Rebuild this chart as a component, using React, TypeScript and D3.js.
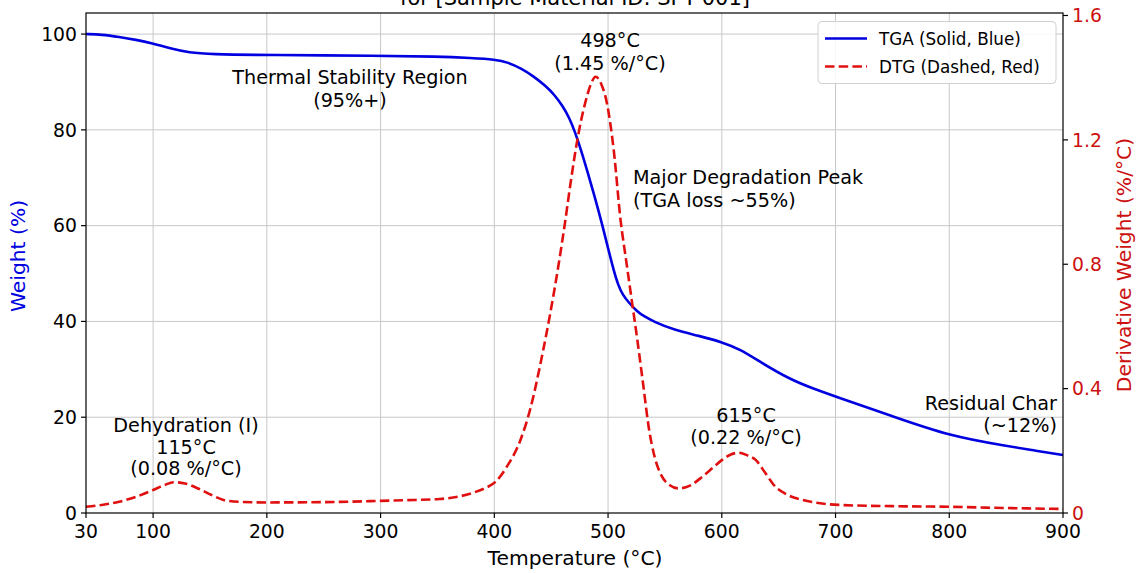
import React from "react";
import * as d3 from "d3";

// ---- Data ----
const tgaTemp = [41, 55, 70, 85, 99, 115, 132, 150, 200, 300, 350, 380, 401, 412, 424, 435, 445, 453, 460, 466, 471, 476, 482, 488, 494, 500, 505, 509, 513, 518, 525, 532, 540, 558, 580, 600, 616, 634, 660, 680, 700, 750, 801, 850, 874, 900];
const tgaWeight = [100, 99.9, 99.4, 98.8, 98.1, 97.0, 96.1, 95.8, 95.6, 95.5, 95.3, 95.0, 94.7, 94.1, 92.8, 91.1, 89.2, 87.3, 85.0, 82.5, 79.5, 76.0, 71.2, 66.3, 61.0, 55.3, 50.6, 47.5, 45.5, 44.0, 42.2, 41.0, 40.0, 38.2, 37.0, 35.7, 34.2, 31.5, 27.9, 26.0, 24.3, 20.2, 16.0, 14.0, 13.1, 12.1];

const dtgTemp = [41, 55, 70, 85, 100, 110, 118, 128, 140, 152, 162, 175, 200, 250, 300, 330, 352, 370, 382, 392, 401, 411, 423, 432, 440, 446, 452, 457, 462, 467, 473, 480, 485, 489, 494, 499, 505, 511, 516, 521, 526, 531, 536, 541, 547, 554, 562, 572, 583, 592, 600, 608, 615, 622, 630, 638, 647, 658, 671, 685, 703, 750, 800, 850, 900];
const dtgRate = [0.020, 0.026, 0.036, 0.052, 0.074, 0.090, 0.099, 0.095, 0.078, 0.057, 0.042, 0.036, 0.034, 0.035, 0.039, 0.042, 0.045, 0.054, 0.066, 0.080, 0.100, 0.149, 0.235, 0.340, 0.470, 0.580, 0.700, 0.810, 0.930, 1.060, 1.200, 1.320, 1.380, 1.403, 1.380, 1.318, 1.167, 0.942, 0.810, 0.680, 0.550, 0.410, 0.270, 0.180, 0.120, 0.090, 0.079, 0.088, 0.117, 0.145, 0.170, 0.188, 0.194, 0.186, 0.170, 0.130, 0.085, 0.058, 0.042, 0.032, 0.026, 0.022, 0.020, 0.016, 0.013];

const xTicks = [30, 100, 200, 300, 400, 500, 600, 700, 800, 900];
const yLeftTicks = [0, 20, 40, 60, 80, 100];
const yRightTicks = [0, 0.4, 0.8, 1.2, 1.6];
const xDomain = [41, 900];
const yLeftDomain = [0, 104.4];
const yRightDomain = [0, 1.608];

const titleText = "for [Sample Material ID: SPT-001]";
const legendLabels = ["TGA (Solid, Blue)", "DTG (Dashed, Red)"];

const W = 1139;
const H = 573;
const L = 86, R = 1063, T = 13, B = 513;
const FONT = "DejaVu Sans, sans-serif";
const BLUE = "#0000e0";
const RED = "#e01010";
const RED_TXT = "#cc1111";

export default function App() {
  const x = d3.scaleLinear().domain(xDomain).range([L, R]);
  const yL = d3.scaleLinear().domain(yLeftDomain).range([B, T]);
  const yR = d3.scaleLinear().domain(yRightDomain).range([B, T]);
  const xPos = (t: number) => x(Math.max(t, xDomain[0]));

  const tgaPts = tgaTemp.map((t, i) => [t, tgaWeight[i]] as [number, number]);
  const dtgPts = dtgTemp.map((t, i) => [t, dtgRate[i]] as [number, number]);

  const tgaLine = d3.line<[number, number]>().x(d => x(d[0])).y(d => yL(d[1])).curve(d3.curveBasis);
  const dtgLine = d3.line<[number, number]>().x(d => x(d[0])).y(d => yR(d[1])).curve(d3.curveMonotoneX);

  const annFs = 19.2;
  const tickFs = 18.8;
  const labFs = 20.3;

  return (
    <svg width={W} height={H} style={{ position: "absolute", left: 0, top: 0, background: "#fff" }} fontFamily={FONT}>
      <rect x={0} y={0} width={W} height={H} fill="#fff" />
      {/* title (partially cropped, as in the reference) */}
      <text x={575} y={5} textAnchor="middle" fontSize={21} fill="#000">{titleText}</text>

      {/* grid */}
      {xTicks.filter(t => t > xDomain[0] && t < xDomain[1]).map(t => (
        <line key={"gx" + t} x1={x(t)} x2={x(t)} y1={T} y2={B} stroke="#c8c8c8" strokeWidth={1} />
      ))}
      {yLeftTicks.filter(t => t > 0).map(t => (
        <line key={"gy" + t} x1={L} x2={R} y1={yL(t)} y2={yL(t)} stroke="#c8c8c8" strokeWidth={1} />
      ))}

      {/* curves */}
      <path d={tgaLine(tgaPts) || ""} fill="none" stroke={BLUE} strokeWidth={2.6} />
      <path d={dtgLine(dtgPts) || ""} fill="none" stroke={RED} strokeWidth={2.6} strokeDasharray="9.5,4.2" />

      {/* frame */}
      <rect x={L} y={T} width={R - L} height={B - T} fill="none" stroke="#000" strokeWidth={1.2} />

      {/* x ticks */}
      {xTicks.map(t => (
        <g key={"xt" + t}>
          <line x1={xPos(t)} x2={xPos(t)} y1={B} y2={B + 5} stroke="#000" strokeWidth={1.2} />
          <text x={xPos(t)} y={B + 25} textAnchor="middle" fontSize={tickFs} fill="#000">{t}</text>
        </g>
      ))}
      <text x={575} y={565} textAnchor="middle" fontSize={labFs} fill="#000">Temperature (°C)</text>

      {/* left ticks */}
      {yLeftTicks.map(t => (
        <g key={"yl" + t}>
          <line x1={L - 5} x2={L} y1={yL(t)} y2={yL(t)} stroke="#000" strokeWidth={1.2} />
          <text x={L - 9} y={yL(t) + 6.7} textAnchor="end" fontSize={tickFs} fill="#000">{t}</text>
        </g>
      ))}
      <text transform={`translate(25, 256) rotate(-90)`} textAnchor="middle" fontSize={labFs} fill={BLUE}>Weight (%)</text>

      {/* right ticks */}
      {yRightTicks.map(t => (
        <g key={"yr" + t}>
          <line x1={R} x2={R + 5} y1={yR(t)} y2={yR(t)} stroke="#000" strokeWidth={1.2} />
          <text x={R + 9} y={yR(t) + 6.7} textAnchor="start" fontSize={tickFs} fill={RED_TXT}>{t === 0 ? "0" : t.toFixed(1)}</text>
        </g>
      ))}
      <text transform={`translate(1131, 265) rotate(-90)`} textAnchor="middle" fontSize={labFs} fill={RED_TXT}>Derivative Weight (%/°C)</text>

      {/* annotations */}
      <g fontSize={annFs} fill="#000">
        <text x={350} y={83.5} textAnchor="middle">Thermal Stability Region</text>
        <text x={350} y={107} textAnchor="middle">(95%+)</text>

        <text x={610} y={47} textAnchor="middle">498°C</text>
        <text x={610} y={70} textAnchor="middle">(1.45 %/°C)</text>

        <text x={633} y={183.5} textAnchor="start">Major Degradation Peak</text>
        <text x={633} y={207} textAnchor="start">(TGA loss ~55%)</text>

        <text x={746} y={422} textAnchor="middle">615°C</text>
        <text x={746} y={443.5} textAnchor="middle">(0.22 %/°C)</text>

        <text x={1057} y={410} textAnchor="end">Residual Char</text>
        <text x={1057} y={432} textAnchor="end">(~12%)</text>

        <text x={186} y={432} textAnchor="middle">Dehydration (I)</text>
        <text x={186} y={453.5} textAnchor="middle">115°C</text>
        <text x={186} y={475} textAnchor="middle">(0.08 %/°C)</text>
      </g>

      {/* legend */}
      <g>
        <rect x={818} y={21.5} width={238} height={62} rx={4} fill="#fff" fillOpacity={0.85} stroke="#d0d0d0" strokeWidth={1} />
        <line x1={825} x2={867} y1={38.5} y2={38.5} stroke={BLUE} strokeWidth={2.6} />
        <line x1={825} x2={867} y1={66.5} y2={66.5} stroke={RED} strokeWidth={2.6} strokeDasharray="9.5,4.2" />
        <text x={879} y={44.5} fontSize={16.8} fill="#000">{legendLabels[0]}</text>
        <text x={879} y={72.5} fontSize={16.8} fill="#000">{legendLabels[1]}</text>
      </g>
    </svg>
  );
}
